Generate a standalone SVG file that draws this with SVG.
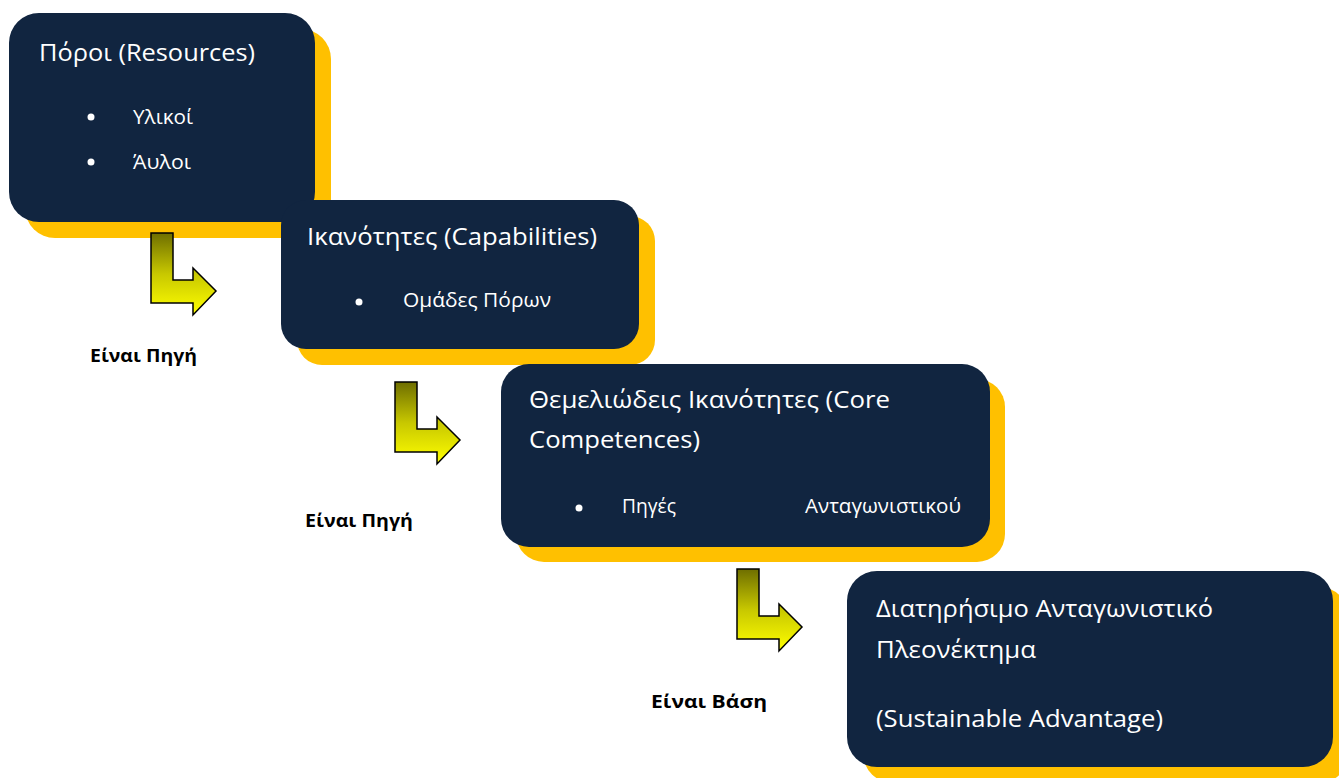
<svg xmlns="http://www.w3.org/2000/svg" width="1339" height="778" viewBox="0 0 1339 778">
<style>
.shadow{fill:#ffc000}
.box{fill:#112540}
.t{font-family:"Open Sans","Liberation Sans",sans-serif;fill:#ffffff}
.h{font-size:24.5px}
.b{font-size:19.5px}
.lbl{font-family:"Open Sans","Liberation Sans",sans-serif;font-weight:bold;font-size:17.5px;fill:#000000}
.arrow{fill:url(#ag);stroke:#000000;stroke-width:1.5;stroke-linejoin:miter}
</style>
<defs>
<linearGradient id="ag" x1="0" y1="0" x2="0" y2="1">
<stop offset="0" stop-color="#6e6e00"/>
<stop offset="0.5" stop-color="#c8c800"/>
<stop offset="1" stop-color="#ffff00"/>
</linearGradient>
<path id="bent" d="M0,0 H22 V47 H42 V35 L65,58 L42,82 V70 H0 Z"/>
</defs>
<rect width="1339" height="778" fill="#ffffff"/>
<g id="node-resources">
<rect class="shadow" x="25" y="29" width="306" height="209" rx="30"/>
<rect class="box" x="9" y="13" width="306" height="209" rx="30"/>
<text class="t h" x="39" y="61" textLength="216" lengthAdjust="spacingAndGlyphs">Πόροι (Resources)</text>
<circle cx="91" cy="117" r="3.5" fill="#ffffff"/>
<text class="t b" x="133" y="124" textLength="60" lengthAdjust="spacingAndGlyphs">Υλικοί</text>
<circle cx="91" cy="162" r="3.5" fill="#ffffff"/>
<text class="t b" x="133" y="169" textLength="58" lengthAdjust="spacingAndGlyphs">Άυλοι</text>
</g>
<g id="node-capabilities">
<rect class="shadow" x="297" y="216" width="358" height="149" rx="25"/>
<rect class="box" x="281" y="200" width="358" height="149" rx="25"/>
<text class="t h" x="307" y="245" textLength="290" lengthAdjust="spacingAndGlyphs">Ικανότητες (Capabilities)</text>
<circle cx="359" cy="302" r="3.5" fill="#ffffff"/>
<text class="t b" x="403" y="307" textLength="148" lengthAdjust="spacingAndGlyphs">Ομάδες Πόρων</text>
</g>
<g id="node-core">
<rect class="shadow" x="516" y="379" width="489" height="183" rx="28"/>
<rect class="box" x="501" y="364" width="489" height="183" rx="28"/>
<text class="t h" x="529" y="408" textLength="361" lengthAdjust="spacingAndGlyphs">Θεμελιώδεις Ικανότητες (Core</text>
<text class="t h" x="529" y="448" textLength="171" lengthAdjust="spacingAndGlyphs">Competences)</text>
<circle cx="579" cy="508" r="3.5" fill="#ffffff"/>
<text class="t b" x="622" y="513" textLength="54" lengthAdjust="spacingAndGlyphs">Πηγές</text>
<text class="t b" x="805" y="513" textLength="156" lengthAdjust="spacingAndGlyphs">Ανταγωνιστικού</text>
</g>
<g id="node-advantage">
<rect class="shadow" x="863" y="587" width="486" height="196" rx="30"/>
<rect class="box" x="847" y="571" width="486" height="196" rx="30"/>
<text class="t h" x="876" y="617" textLength="337" lengthAdjust="spacingAndGlyphs">Διατηρήσιμο Ανταγωνιστικό</text>
<text class="t h" x="876" y="658" textLength="160" lengthAdjust="spacingAndGlyphs">Πλεονέκτημα</text>
<text class="t h" x="876" y="727" textLength="287" lengthAdjust="spacingAndGlyphs">(Sustainable Advantage)</text>
</g>
<g id="connectors">
<use href="#bent" class="arrow" transform="translate(151,233)"/>
<use href="#bent" class="arrow" transform="translate(395,382)"/>
<use href="#bent" class="arrow" transform="translate(737,569)"/>
<text class="lbl" x="90" y="362" textLength="107" lengthAdjust="spacingAndGlyphs">Είναι Πηγή</text>
<text class="lbl" x="305" y="527" textLength="108" lengthAdjust="spacingAndGlyphs">Είναι Πηγή</text>
<text class="lbl" x="651" y="708" textLength="116" lengthAdjust="spacingAndGlyphs">Είναι Βάση</text>
</g>
</svg>
